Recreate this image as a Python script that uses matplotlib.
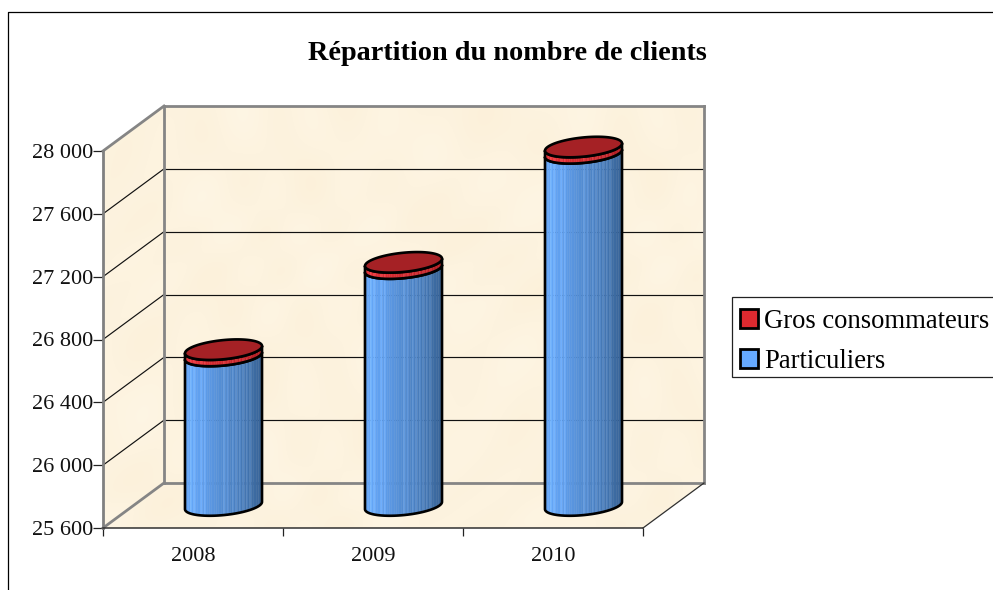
import numpy as np
import matplotlib
matplotlib.use("Agg")
import matplotlib.pyplot as plt
from matplotlib.patches import Polygon, Patch, Rectangle
from matplotlib.lines import Line2D
from matplotlib.transforms import IdentityTransform

years = ["2008", "2009", "2010"]
particuliers = [26552, 27108, 27842]
gros = [40, 40, 40]
y_ticks = [25600, 26000, 26400, 26800, 27200, 27600, 28000]
y_labels = ["25 600", "26 000", "26 400", "26 800", "27 200", "27 600", "28 000"]
title = "Répartition du nombre de clients"
legend_labels = ["Gros consommateurs", "Particuliers"]

W, H = 993, 590
DX, DY = 61, 45          # depth of the 3D box, px
RX, RY, SK = 38.5, 9.6, 0.095  # cylinder radius, ellipse height, skew

plt.rcParams["font.family"] = ["Liberation Serif", "DejaVu Serif"]
fig = plt.figure(figsize=(W / 100, H / 100), dpi=100, facecolor="white")

# pixel-space background: frame and textured walls
bg = fig.add_axes([0, 0, 1, 1], zorder=0)
bg.set_xlim(0, W); bg.set_ylim(H, 0); bg.axis("off")

ax = fig.add_axes([103 / W, (H - 528) / H, 540 / W, 377 / H], zorder=1)
ax.set_xlim(0, 3); ax.set_ylim(25600, 28000)
ax.patch.set_visible(False)
ax.set_xticks([0, 1, 2, 3]); ax.set_xticklabels([])
ax.set_yticks(y_ticks); ax.set_yticklabels(y_labels, fontsize=16)
ax.tick_params(axis="y", length=7.2, width=0.9, pad=0, color="#222222", labelcolor="#111111")
ax.tick_params(axis="x", length=5.8, width=0.9, color="#222222")
for s in ["top", "right"]:
    ax.spines[s].set_visible(False)
ax.spines["left"].set_color("#808080"); ax.spines["left"].set_linewidth(2)
ax.spines["bottom"].set_color("#303030"); ax.spines["bottom"].set_linewidth(1.1)
for i, y in enumerate(years):
    ax.text(i + 0.5, -0.05, y, transform=ax.get_xaxis_transform(), ha="center", va="top",
            fontsize=16, color="#111111")
ID = IdentityTransform()


def P(x, v, d=0.0):
    """display px of data point (x, v) pushed d of the way into the box"""
    px, py = ax.transData.transform((x, v))
    return px + d * DX, py + d * DY


# wall texture (smooth deterministic mottling)
yy, xx = np.mgrid[0:H, 0:W]
m = (np.sin(xx / 37.0 + 1.3 * np.sin(yy / 53.0)) * np.cos(yy / 29.0 + xx / 91.0)
     + 0.7 * np.sin(xx / 17.0 - yy / 23.0 + 2 * np.cos(xx / 61.0))
     + 0.5 * np.cos(xx / 11.0 + yy / 13.0 + 1.7 * np.sin(yy / 41.0))) / 2.2
tex = np.dstack([253 + 0.8 * m, 243 + 2.2 * m, 223 + 4.5 * m]).clip(0, 255) / 255

corners = [P(0, 25600), P(0, 28000), P(0, 28000, 1), P(3, 28000, 1), P(3, 25600, 1), P(3, 25600)]
clip = Polygon(corners, closed=True, transform=ID, fc="none", ec="none")
bg.add_patch(clip)
im = bg.imshow(tex, extent=[0, W, H, 0], aspect="auto", zorder=1)
im.set_clip_path(clip)
bg.set_xlim(0, W); bg.set_ylim(H, 0)


def seg(a, b, color, lw, z=2):
    ax.add_line(Line2D([a[0], b[0]], [a[1], b[1]], transform=ID, color=color, lw=lw,
                       zorder=z, clip_on=False, solid_capstyle="projecting"))


# gridlines
for v in y_ticks[1:-1]:
    seg(P(0, v), P(0, v, 1), "#111111", 0.85)
    seg(P(0, v, 1), P(3, v, 1), "#111111", 0.85)
# box edges
GREY = "#858585"
seg(P(0, 28000), P(0, 28000, 1), GREY, 2)
seg(P(0, 25600), P(0, 25600, 1), GREY, 2)
seg(P(0, 25600, 1), P(0, 28000, 1), GREY, 2)
seg(P(0, 28000, 1), P(3, 28000, 1), GREY, 2)
seg(P(3, 28000, 1), P(3, 25600, 1), GREY, 2)
seg(P(0, 25600, 1), P(3, 25600, 1), GREY, 2)
seg(P(3, 25600), P(3, 25600, 1), "#303030", 0.9)

T = np.linspace(0, 2 * np.pi, 181)


def front(cx, cy, x):
    """lower arc of the ellipse at px positions x"""
    c = (x - cx) / RX
    return cy + SK * RX * c - RY * np.sqrt(np.clip(1 - c * c, 0, 1))


def shade(f, light, dark):
    return tuple(np.array(light) + (np.array(dark) - np.array(light)) * f)


BLUE_L, BLUE_D = (102, 168, 250), (56, 100, 152)
RED_L, RED_D = (226, 48, 54), (176, 28, 34)
STREAKS = {3, 5, 9, 11, 22, 24, 27, 29, 31, 33, 35, 37}


def cylinder_part(cx, y0, y1, light, dark, z):
    n = 44
    xs = np.linspace(cx - RX, cx + RX, n + 1)
    for k in range(n):
        xa = np.linspace(xs[k], xs[k + 1], 3)
        f = (k / (n - 1)) ** 1.25
        col = np.array(shade(f, light, dark))
        if k in STREAKS:
            col = col + 16
        col = np.clip(col, 0, 255) / 255
        pts = np.r_[np.c_[xa, front(cx, y0, xa)], np.c_[xa[::-1], front(cx, y1, xa[::-1])]]
        ax.add_patch(Polygon(pts, closed=True, transform=ID, fc=col, ec=col, lw=0.3,
                             zorder=z, clip_on=False))


def outline(cx, y0, y1, z):
    xa = cx + RX * np.cos(np.linspace(np.pi, 0, 90))
    pts = np.r_[np.c_[xa, front(cx, y0, xa)], np.c_[xa[::-1], front(cx, y1, xa[::-1])]]
    ax.add_patch(Polygon(pts, closed=True, transform=ID, fc="none", ec="black", lw=1.9,
                         zorder=z, clip_on=False, joinstyle="round"))


for i in range(3):
    cx, y0 = P(i + 0.5, 25600, 0.5)
    _, y1 = P(i + 0.5, particuliers[i], 0.5)
    _, y2 = P(i + 0.5, particuliers[i] + gros[i], 0.5)
    cylinder_part(cx, y0, y1, BLUE_L, BLUE_D, 3)
    outline(cx, y0, y1, 4)
    cylinder_part(cx, y1, y2, RED_L, RED_D, 5)
    outline(cx, y1, y2, 6)
    ex = cx + RX * np.cos(T)
    ey = y2 + SK * RX * np.cos(T) + RY * np.sin(T)
    ax.add_patch(Polygon(np.c_[ex, ey], closed=True, transform=ID, fc="#A52125", ec="black",
                         lw=1.9, zorder=7, clip_on=False))

# frame lines
bg.plot([8, 8, W + 5], [H + 5, 12, 12], color="black", lw=0.9, zorder=3, clip_on=False)

fig.text(507 / W, 1 - 53 / H, title, ha="center", va="center", fontsize=20.3, fontweight="bold",
         color="black")

# legend box is clipped by the right edge of the picture
bg.add_patch(Rectangle((732, 297), 280, 80, fc="white", ec="#222222", lw=0.9, zorder=3, clip_on=True))
handles = [Patch(fc="#DD2A30", ec="black", lw=2), Patch(fc="#66AAFF", ec="black", lw=2)]
leg = fig.legend(handles, legend_labels, loc="upper left", bbox_to_anchor=(732 / W, 1 - 301 / H),
                 bbox_transform=fig.transFigure, fontsize=19.2, frameon=False,
                 borderaxespad=0, borderpad=0.3,
                 labelspacing=0.56, handlelength=0.68, handleheight=0.68, handletextpad=0.22)

fig.savefig("out.png", dpi=100)
